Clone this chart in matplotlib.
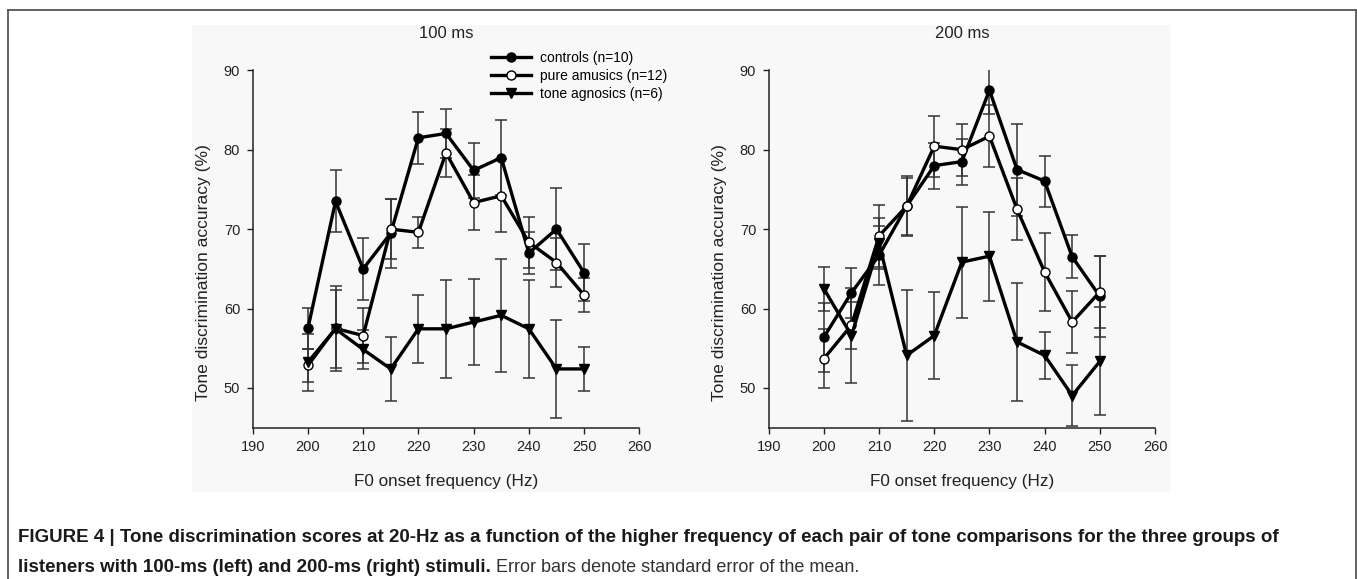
import matplotlib
matplotlib.use("Agg")
import matplotlib.pyplot as plt
from matplotlib.lines import Line2D
from matplotlib.patches import Rectangle

plt.rcParams['font.family'] = ['Liberation Sans', 'DejaVu Sans']

# --------------------------------------------------
# Data
# --------------------------------------------------

freq = [200, 205, 210, 215, 220, 225, 230, 235, 240, 245, 250]

ctrl_100 = [57.5, 73.5, 65.0, 69.5, 81.5, 82.05, 77.4, 79.0, 67.0, 70.0, 64.5]
ctrl_100_se = [2.55, 3.9, 3.9, 4.35, 3.25, 3.05, 3.5, 4.7, 2.6, 5.2, 3.6]
amus_100 = [52.85, 57.5, 56.6, 70.0, 69.6, 79.6, 73.35, 74.2, 68.35, 65.8, 61.7]
amus_100_se = [2.05, 5.4, 3.45, 3.8, 1.95, 3.0, 3.5, 4.6, 3.2, 3.05, 2.1]
agno_100 = [53.25, 57.45, 54.85, 52.4, 57.45, 57.45, 58.3, 59.15, 57.45, 52.4, 52.4]
agno_100_se = [3.6, 4.9, 2.5, 4.05, 4.25, 6.2, 5.45, 7.15, 6.15, 6.15, 2.8]

ctrl_200 = [56.4, 62.0, 66.7, 72.9, 78.0, 78.5, 87.5, 77.5, 76.05, 66.5, 61.55]
ctrl_200_se = [4.35, 3.15, 3.75, 3.75, 2.9, 2.9, 3.0, 5.8, 3.2, 2.7, 5.1]
amus_200 = [53.7, 57.9, 69.15, 72.9, 80.45, 80.0, 81.7, 72.5, 64.6, 58.3, 62.1]
amus_200_se = [3.7, 2.95, 3.95, 3.6, 3.85, 3.3, 3.9, 3.9, 4.9, 3.95, 4.55]
agno_200 = [62.5, 56.6, 68.2, 54.1, 56.6, 65.85, 66.6, 55.8, 54.1, 49.05, 53.35]
agno_200_se = [2.75, 6.0, 3.25, 8.2, 5.5, 7.0, 5.6, 7.4, 3.0, 3.8, 6.8]

labels = ['controls (n=10)', 'pure amusics (n=12)', 'tone agnosics (n=6)']
xticks = [190, 200, 210, 220, 230, 240, 250, 260]
yticks = [50, 60, 70, 80, 90]

W, H = 1357, 579
fig = plt.figure(figsize=(W / 100, H / 100), dpi=100)

# --------------------------------------------------
# Page decoration: gray panel + frame
# --------------------------------------------------

fig.add_artist(Rectangle((192 / W, 1 - 492 / H), (1171 - 192) / W, (492 - 25) / H,
                         transform=fig.transFigure, facecolor='#f8f8f8',
                         edgecolor='none', zorder=-5))
frame = dict(color='#555555', lw=1.3, transform=fig.transFigure)
fig.add_artist(Line2D([7.7 / W, 1355.7 / W], [1 - 9.5 / H, 1 - 9.5 / H], **frame))
fig.add_artist(Line2D([7.7 / W, 7.7 / W], [0, 1 - 9.5 / H], **frame))
fig.add_artist(Line2D([1355.7 / W, 1355.7 / W], [0, 1 - 9.5 / H], **frame))


def draw_panel(ax, title, series, legend=False):
    styles = [('o', 'black'), ('o', 'white'), ('v', 'black')]
    for (vals, errs), (m, face) in zip(series, styles):
        ax.errorbar(freq, vals, yerr=errs, fmt='none', ecolor='#333333',
                    elinewidth=1.1, capsize=4, capthick=1.1, zorder=2)
    for (vals, errs), (m, face), lab in zip(series, styles, labels):
        ax.plot(freq, vals, color='black', lw=2.4, marker=m, ms=6.5,
                mfc=face, mec='black', mew=1.0, label=lab, zorder=3)

    ax.set_xlim(190, 260)
    ax.set_ylim(45, 90)
    ax.set_xticks(xticks)
    ax.set_yticks(yticks)
    ax.set_facecolor('none')
    for s in ['top', 'right']:
        ax.spines[s].set_visible(False)
    for s in ['left', 'bottom']:
        ax.spines[s].set_color('#222222')
        ax.spines[s].set_linewidth(1.1)
    ax.tick_params(direction='out', length=4, width=1.0, color='#222222',
                   labelsize=10.5, labelcolor='#222222', pad=5)

    ax.set_title(title, fontsize=12, color='#222222', y=1.104, pad=0,
                 va='center')
    ax.set_xlabel('F0 onset frequency (Hz)', fontsize=12.3, color='#222222',
                  va='center')
    ax.xaxis.set_label_coords(0.5, -0.151)
    ax.set_ylabel('Tone discrimination accuracy (%)', fontsize=12.6,
                  color='#222222', va='center')
    ax.yaxis.set_label_coords(-0.128, 0.433)

    if legend:
        ax.legend(loc='upper left', bbox_to_anchor=(491 / W, 1 - 51 / H),
                  bbox_transform=fig.transFigure, frameon=False,
                  fontsize=10, handlelength=2.9, handletextpad=0.6,
                  labelspacing=0.3, borderpad=0, borderaxespad=0)


ax1 = fig.add_axes([252.7 / W, 1 - 427.7 / H, 386.6 / W, 357.4 / H])
draw_panel(ax1, '100 ms',
           [(ctrl_100, ctrl_100_se), (amus_100, amus_100_se), (agno_100, agno_100_se)],
           legend=True)

ax2 = fig.add_axes([768.7 / W, 1 - 427.7 / H, 386.3 / W, 357.4 / H])
draw_panel(ax2, '200 ms',
           [(ctrl_200, ctrl_200_se), (amus_200, amus_200_se), (agno_200, agno_200_se)])

# --------------------------------------------------
# Caption
# --------------------------------------------------

cap_x = 18 / W
cap_size = 13.5
fig.text(cap_x, 1 - 538 / H,
         'FIGURE 4 | Tone discrimination scores at 20-Hz as a function of the higher '
         'frequency of each pair of tone comparisons for the three groups of',
         fontsize=cap_size, fontweight='bold', color='#1a1a1a', va='center')
t_bold = fig.text(cap_x, 1 - 567 / H,
                  'listeners with 100-ms (left) and 200-ms (right) stimuli.',
                  fontsize=cap_size, fontweight='bold', color='#1a1a1a', va='center')

renderer = fig.canvas.get_renderer()
bb = t_bold.get_window_extent(renderer=renderer)
fig.text(bb.x1 / W + 5 / W, 1 - 567 / H,
         'Error bars denote standard error of the mean.',
         fontsize=13, color='#333333', va='center')

fig.savefig('out.png', dpi=100)
